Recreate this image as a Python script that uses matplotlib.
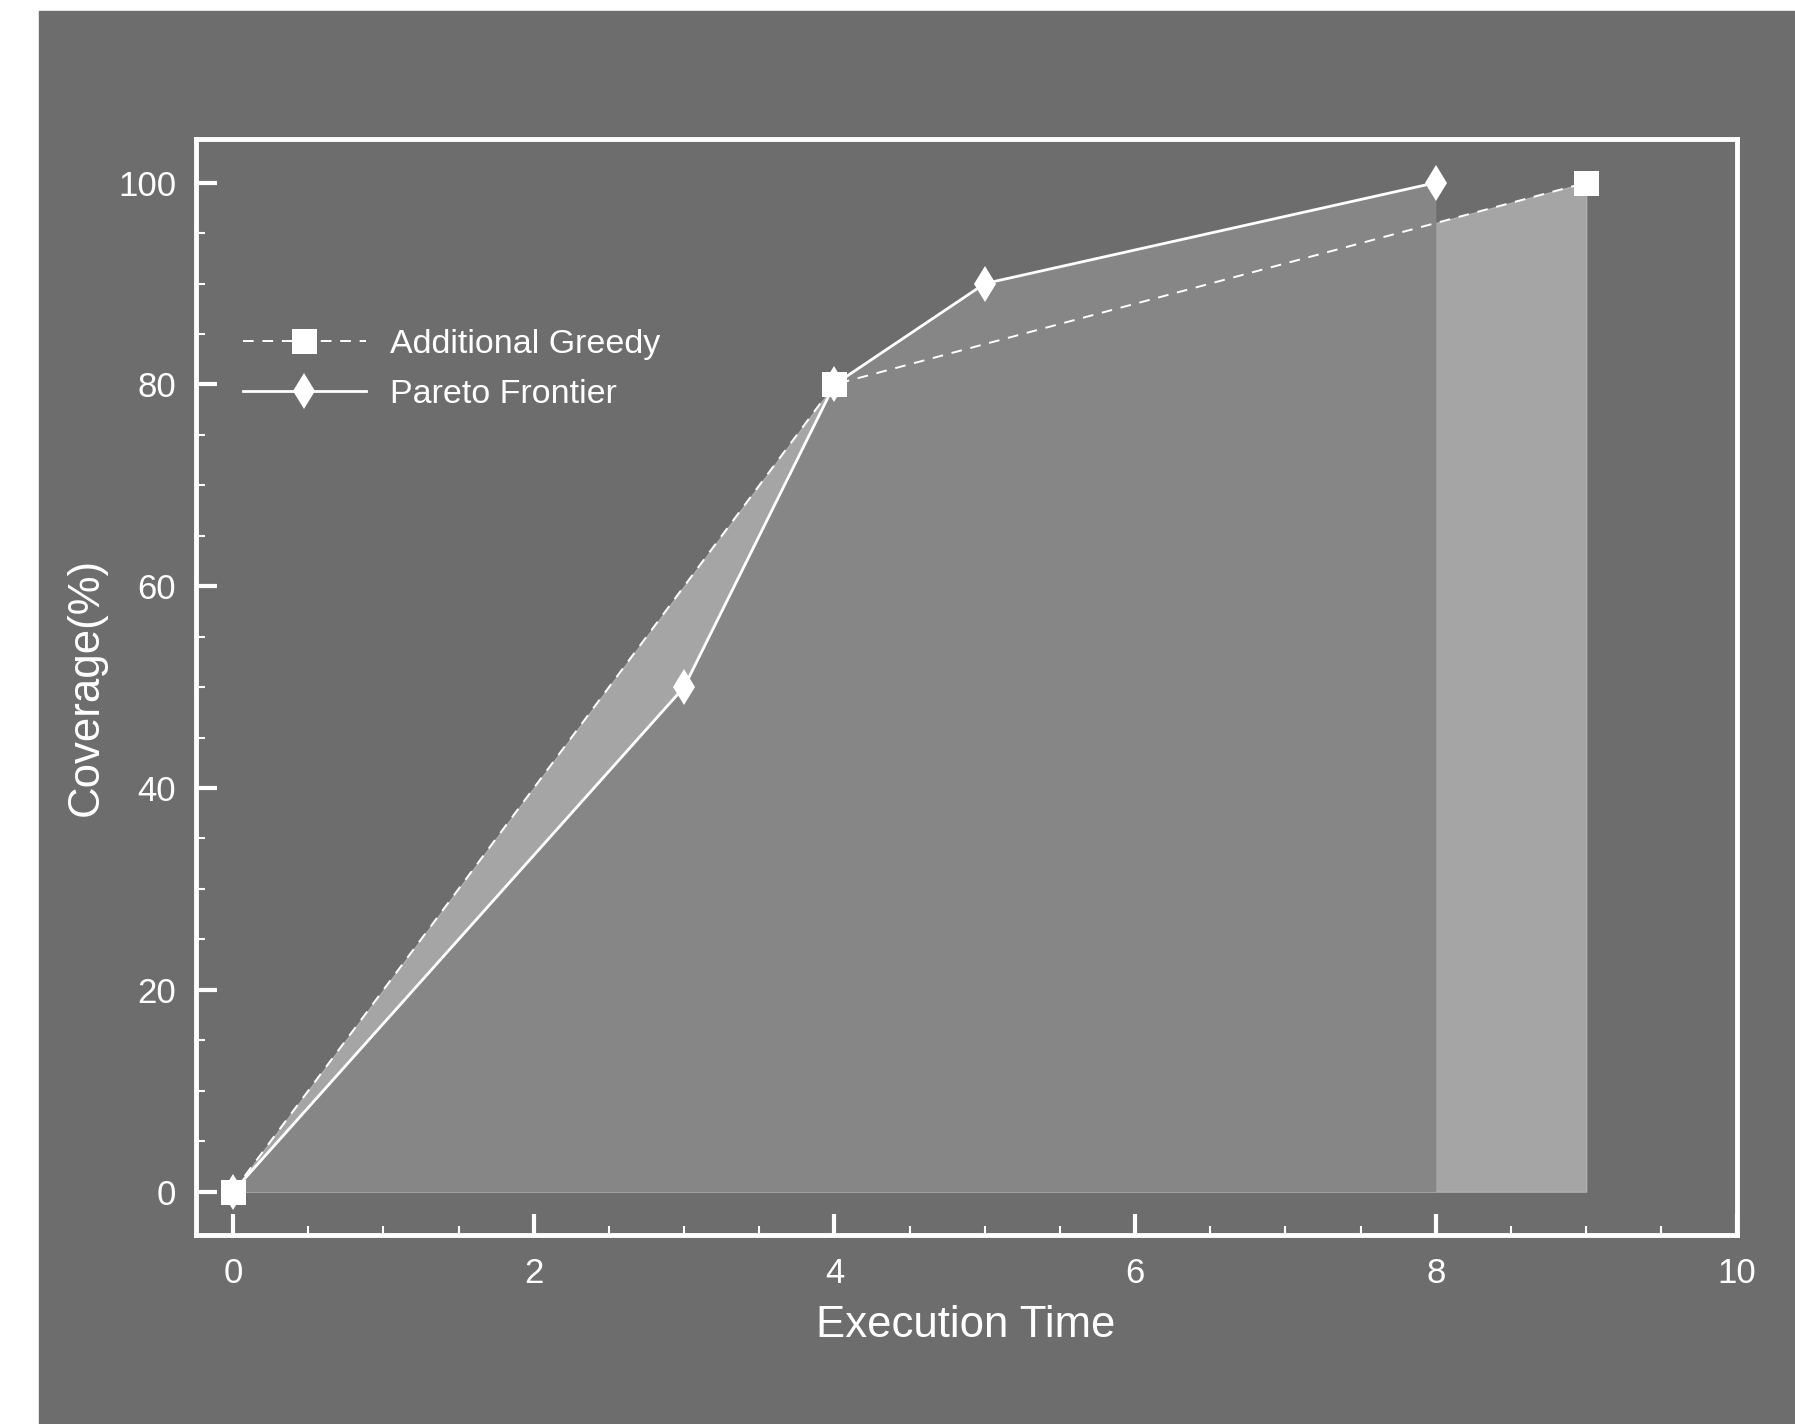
import matplotlib
matplotlib.use("Agg")
import matplotlib.pyplot as plt
from matplotlib.patches import Rectangle
from matplotlib.ticker import MultipleLocator

plt.rcParams['font.family'] = ['Liberation Sans', 'DejaVu Sans']

# data
greedy_x = [0, 4, 9]
greedy_y = [0, 80, 100]
pareto_x = [0, 3, 4, 5, 8]
pareto_y = [0, 50, 80, 90, 100]

bg = '#6d6d6d'
fig = plt.figure(figsize=(17.95, 14.24), dpi=100, facecolor='white')
# gray panel (white strip on left and top)
fig.patches.append(Rectangle((39 / 1795, 0), 1 - 39 / 1795, 1 - 11 / 1424,
                             transform=fig.transFigure, color=bg, zorder=-10))

ax = fig.add_axes([195.5 / 1795, 1 - 1234.5 / 1424, (1736.5 - 195.5) / 1795, (1234.5 - 139) / 1424])
ax.set_facecolor(bg)

ax.fill_between(greedy_x, greedy_y, 0, color='#a5a5a5', edgecolor='#b0b0b0', lw=1, zorder=1)
ax.fill_between(pareto_x, pareto_y, 0, color='#868686', lw=0, zorder=2)

lp, = ax.plot(pareto_x, pareto_y, color='white', lw=2, marker='d', markersize=18,
              markeredgewidth=0, label='Pareto Frontier', zorder=3)
lg, = ax.plot(greedy_x, greedy_y, color='white', lw=1.4, linestyle=(0, (5.5, 4.5)), marker='s',
              markersize=18, markeredgewidth=0, label='Additional Greedy', zorder=4)

ax.set_xlim(-0.25, 10)
ax.set_ylim(-4.25, 104.33)
ax.xaxis.set_major_locator(MultipleLocator(2))
ax.xaxis.set_minor_locator(MultipleLocator(0.5))
ax.yaxis.set_major_locator(MultipleLocator(20))
ax.yaxis.set_minor_locator(MultipleLocator(5))

for s in ax.spines.values():
    s.set_color('white')
    s.set_linewidth(3.5)
ax.tick_params(which='both', direction='in', colors='white', top=False, right=False)
ax.tick_params(which='major', length=15, width=3, labelsize=25)
ax.tick_params(which='minor', length=6.7, width=1.5)
ax.tick_params(axis='x', which='major', pad=16)
ax.tick_params(axis='y', which='major', pad=14)

ax.set_xlabel('Execution Time', fontsize=31.5, color='white', labelpad=11)
ax.set_ylabel('Coverage(%)', fontsize=31.5, color='white', labelpad=8)

leg = ax.legend(handles=[lg, lp], loc='upper left', bbox_to_anchor=(243 / 1795, 1 - 329 / 1424),
                bbox_transform=fig.transFigure, frameon=False, fontsize=24.5, handlelength=3.6,
                handletextpad=0.72, labelspacing=0.55, borderpad=0, borderaxespad=0)
for t in leg.get_texts():
    t.set_color('white')

fig.savefig('out.png', dpi=100, facecolor='white')
